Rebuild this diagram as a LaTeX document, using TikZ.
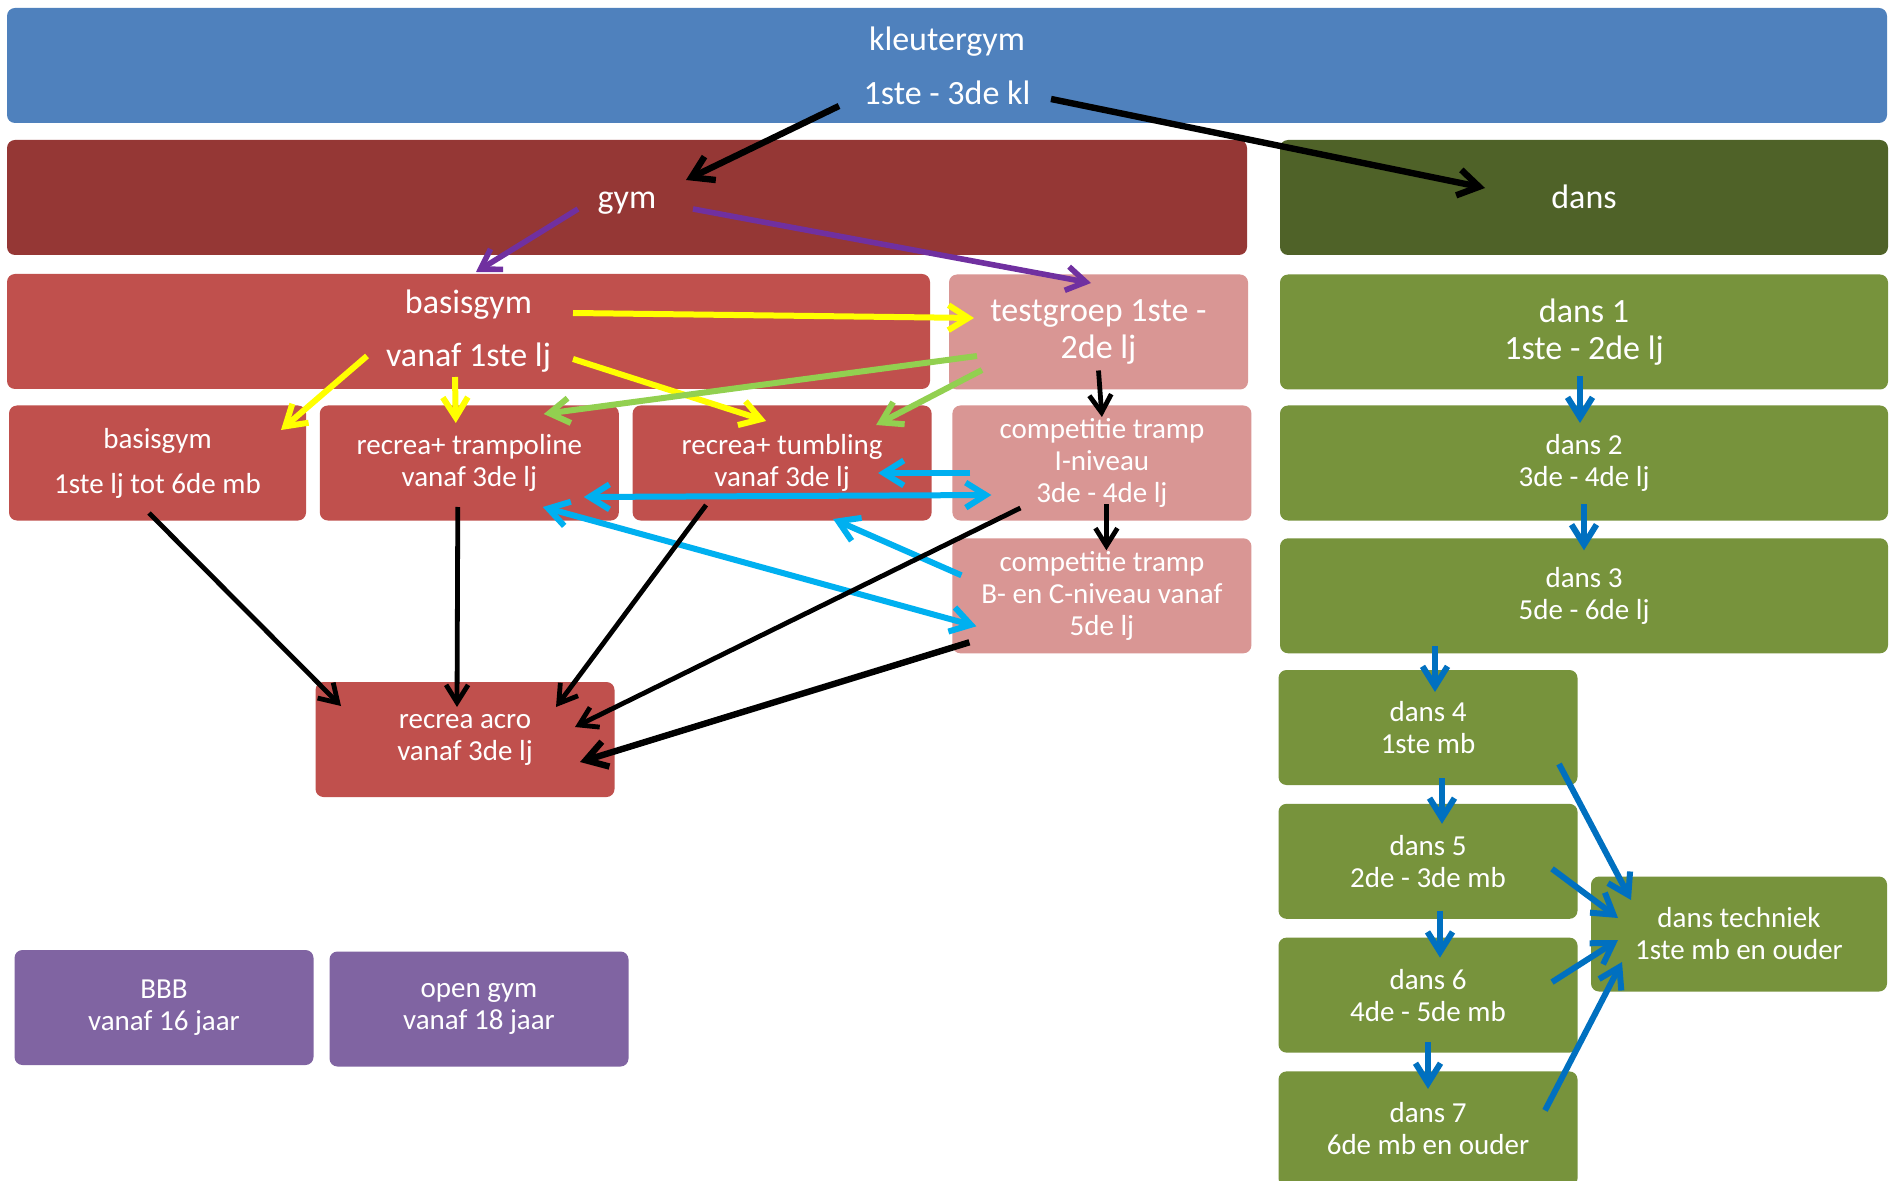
\documentclass[tikz,border=0pt]{standalone}
\usepackage{fontspec}
\setmainfont{Carlito}
\usetikzlibrary{arrows.meta}
\usetikzlibrary{calc}
\usetikzlibrary{positioning}

\definecolor{kleuterblauw}{HTML}{4F81BD}
\definecolor{gymrood}{HTML}{953735}
\definecolor{dansgroen}{HTML}{4F6228}
\definecolor{rood}{HTML}{C0504D}
\definecolor{roze}{HTML}{D99694}
\definecolor{groen}{HTML}{77933C}
\definecolor{paars}{HTML}{8064A2}
\definecolor{pijlpaars}{HTML}{7030A0}
\definecolor{pijlgeel}{HTML}{FFFF00}
\definecolor{pijlgroen}{HTML}{92D050}
\definecolor{pijlcyaan}{HTML}{00B0F0}
\definecolor{pijlblauw}{HTML}{0070C0}

\newcommand{\groot}{\fontsize{17pt}{18.5pt}\selectfont}
\newcommand{\kleintekst}{\fontsize{14.5pt}{16pt}\selectfont}

\begin{document}
\begin{tikzpicture}[x=0.5pt, y=-0.5pt,
    blok/.style={rectangle, rounded corners=4pt, inner sep=0pt, minimum height=57.5pt,
      minimum width=149.5pt, text=white, align=center, font=\kleintekst},
    kop/.style={blok, font=\groot},
    >={Straight Barb[length=4pt 2, width=5pt 2.5]},
    dikpijl/.style={->, line width=3.2pt, color=black},
    zwartpijl/.style={->, line width=2.4pt, color=black},
    paarspijl/.style={->, line width=2.8pt, color=pijlpaars},
    geelpijl/.style={->, line width=3pt, color=pijlgeel},
    groenpijl/.style={->, line width=3pt, color=pijlgroen},
    cyaanpijl/.style={->, line width=3pt, color=pijlcyaan},
    blauwpijl/.style={->, line width=3pt, color=pijlblauw}]
    \path[use as bounding box, fill=white] (0,0) rectangle (1893,1181);

    % bovenste rijen
    \node[kop, fill=kleuterblauw, minimum width=940pt] (kleuter) at (947,65.5) {kleutergym\\[8.5pt]1ste - 3de kl};
    \node[kop, fill=gymrood, minimum width=620pt] (gym) at (627,197.5) {\raisebox{-2pt}[\height][\depth]{\strut gym}};
    \node[kop, fill=dansgroen, minimum width=304pt] (danskop) at (1584,197.5) {\raisebox{-2pt}[\height][\depth]{\strut dans}};
    \node[kop, fill=rood, minimum width=461.5pt] (basis) at (468.5,331.5) {basisgym\\[8pt]vanaf 1ste lj};
    \node[kop, fill=roze] (testgroep) at (1098.5,332) {testgroep 1ste -\\2de lj};
    \node[kop, fill=groen, minimum width=304pt] (dans1) at (1584,332) {dans 1\\1ste - 2de lj};

    % gym
    \node[blok, fill=rood, minimum width=148.5pt] (basisklein) at (157.5,463) {basisgym\\[6.5pt]1ste lj tot 6de mb};
    \node[blok, fill=rood, right=6.5pt of basisklein] (trampoline) {recrea+ trampoline\\vanaf 3de lj};
    \node[blok, fill=rood, right=6.5pt of trampoline] (tumbling) {recrea+ tumbling\\vanaf 3de lj};
    \node[blok, fill=roze, right=10pt of tumbling] (compI) {competitie tramp\\I-niveau\\3de - 4de lj};
    \node[blok, fill=roze, below=8.5pt of compI] (compB) {competitie tramp\\B- en C-niveau vanaf\\5de lj};
    \node[blok, fill=rood] (acro) at (465,739.5) {recrea acro\\vanaf 3de lj};
    \node[blok, fill=paars] (bbb) at (164,1007.5) {BBB\\vanaf 16 jaar};
    \node[blok, fill=paars] (opengym) at (479,1009) {open gym\\vanaf 18 jaar};

    % dans
    \node[blok, fill=groen, minimum width=304pt] (dans2) at (1584,463) {dans 2\\3de - 4de lj};
    \node[blok, fill=groen, minimum width=304pt, below=8.5pt of dans2] (dans3) {dans 3\\5de - 6de lj};
    \node[blok, fill=groen] (dans4) at (1428,727.5) {dans 4\\1ste mb};
    \node[blok, fill=groen, below=9pt of dans4] (dans5) {dans 5\\2de - 3de mb};
    \node[blok, fill=groen, below=9pt of dans5] (dans6) {dans 6\\4de - 5de mb};
    \node[blok, fill=groen, below=9pt of dans6] (dans7) {dans 7\\6de mb en ouder};
    \node[blok, fill=groen, minimum width=148pt] (techniek) at (1739,934) {dans techniek\\1ste mb en ouder};

    \draw[dikpijl] ($(kleuter)+(-108,40.5)$) -- ($(gym)+(59,-17.5)$);
    \draw[dikpijl] ($(kleuter)+(104,33.5)$) -- ($(danskop)+(-99,-9.5)$);
    \draw[paarspijl] ($(gym)+(-49,11.5)$) -- ($(basis)+(7.5,-59.5)$);
    \draw[paarspijl] ($(gym)+(66,11.5)$) -- ($(testgroep)+(-7.5,-49)$);

    \draw[geelpijl] ($(basis)+(104.5,-18.5)$) -- ($(testgroep)+(-124.5,-14)$);
    \draw[geelpijl] ($(basis)+(-101.5,24.5)$) -- ($(basisklein)+(123.5,-33)$);
    \draw[geelpijl] ($(basis)+(-13.5,45.5)$) -- ($(trampoline)+(-13.5,-40)$);
    \draw[geelpijl] ($(basis)+(104.5,27.5)$) -- ($(tumbling)+(-16,-42)$);
    \draw[groenpijl] ($(testgroep)+(-121.5,24)$) -- ($(trampoline)+(74.5,-49)$);
    \draw[groenpijl] ($(testgroep)+(-116.5,38)$) -- ($(tumbling)+(94,-38)$);
    \draw[zwartpijl] ($(testgroep)+(0,38.5)$) -- ($(compI)+(0,-46)$);
    \draw[zwartpijl] ($(compI)+(4.5,41)$) -- ($(compB)+(4.5,-45.5)$);

    \draw[cyaanpijl] ($(compI)+(-131.5,10)$) -- ($(tumbling)+(96,10)$);
    \draw[cyaanpijl, <->] ($(trampoline)+(114.5,34)$) -- ($(compI)+(-110.5,32)$);
    \draw[cyaanpijl, <->] ($(trampoline)+(73.5,44)$) -- ($(compB)+(-125.5,30.5)$);
    \draw[cyaanpijl] ($(compB)+(-140.5,-20.5)$) -- ($(tumbling)+(51,56)$);

    \draw[zwartpijl] ($(basisklein)+(-8.5,50)$) -- ($(acro)+(-124,-33.5)$);
    \draw[zwartpijl] ($(trampoline)+(-11.5,44)$) -- ($(acro)+(-8,-32.5)$);
    \draw[zwartpijl] ($(tumbling)+(-76,42)$) -- ($(acro)+(91,-32.5)$);
    \draw[zwartpijl] ($(compI)+(-81.5,45)$) -- ($(acro)+(110,-12.5)$);
    \draw[zwartpijl, line width=3.2pt] ($(compB)+(-132.5,46.5)$) -- ($(acro)+(115,22.5)$);

    \draw[blauwpijl] ($(dans1)+(-4,44)$) -- ($(dans2)+(-4,-40)$);
    \draw[blauwpijl] ($(dans2)+(0,41)$) -- ($(dans3)+(0,-45.5)$);
    \draw[blauwpijl] ($(dans3)+(-149,50.5)$) -- ($(dans4)+(7,-35.5)$);
    \draw[blauwpijl] ($(dans4)+(14,50.5)$) -- ($(dans5)+(14,-37.5)$);
    \draw[blauwpijl] ($(dans5)+(12,49.5)$) -- ($(dans6)+(12,-37.5)$);
    \draw[blauwpijl] ($(dans6)+(0,47)$) -- ($(dans7)+(0,-40)$);
    \draw[blauwpijl] ($(dans4)+(131,36.5)$) -- ($(techniek)+(-108,-34)$);
    \draw[blauwpijl] ($(dans5)+(124,7.5)$) -- ($(techniek)+(-121,-16)$);
    \draw[blauwpijl] ($(dans6)+(124,-13)$) -- ($(techniek)+(-121,6)$);
    \draw[blauwpijl] ($(dans7)+(117,-18.5)$) -- ($(techniek)+(-117,28)$);
\end{tikzpicture}
\end{document}
